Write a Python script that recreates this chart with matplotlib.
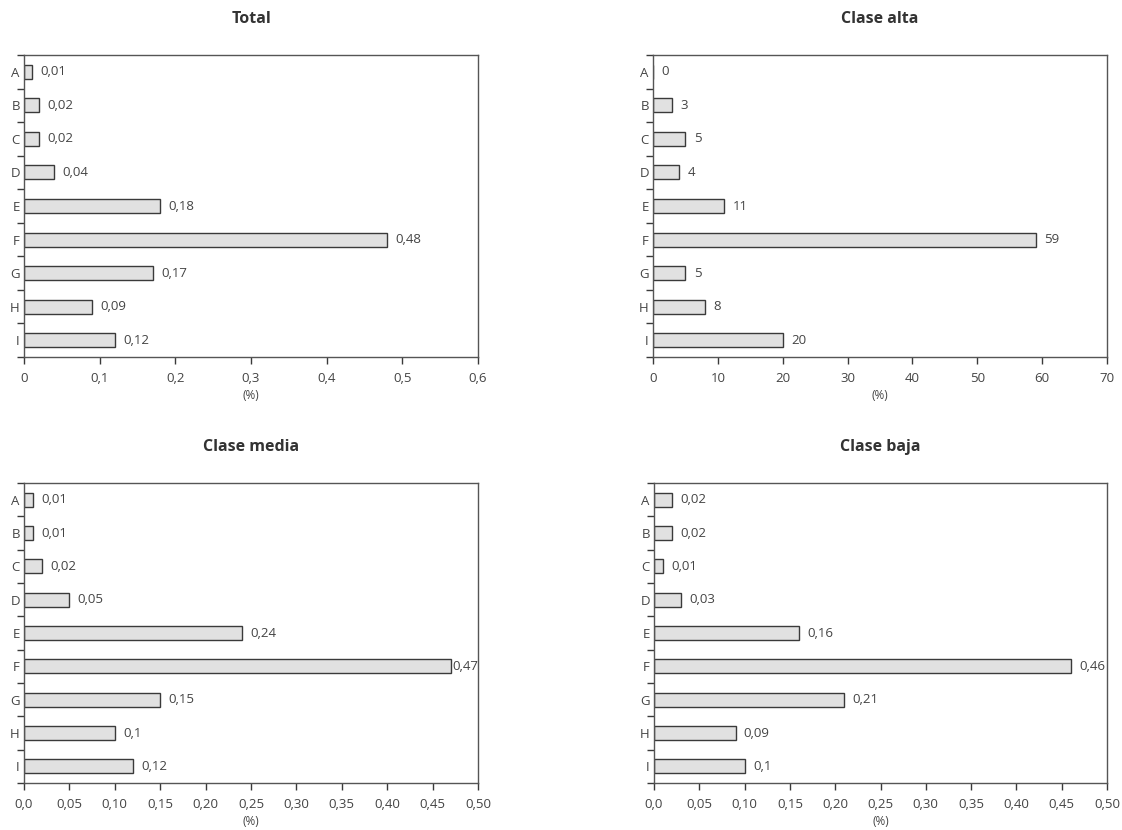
import numpy as np
import matplotlib
matplotlib.use("Agg")
import matplotlib.pyplot as plt

plt.rcParams["font.family"] = ["Open Sans", "DejaVu Sans"]

categories = ["A", "B", "C", "D", "E", "F", "G", "H", "I"]

total = [0.01, 0.02, 0.02, 0.04, 0.18, 0.48, 0.17, 0.09, 0.12]
clase_alta = [0, 3, 5, 4, 11, 59, 5, 8, 20]
clase_media = [0.01, 0.01, 0.02, 0.05, 0.24, 0.47, 0.15, 0.1, 0.12]
clase_baja = [0.02, 0.02, 0.01, 0.03, 0.16, 0.46, 0.21, 0.09, 0.1]

ticks_total = [0, 0.1, 0.2, 0.3, 0.4, 0.5, 0.6]
ticklabels_total = ["0", "0,1", "0,2", "0,3", "0,4", "0,5", "0,6"]
ticks_alta = [0, 10, 20, 30, 40, 50, 60, 70]
ticklabels_alta = ["0", "10", "20", "30", "40", "50", "60", "70"]
ticks_half = [0, 0.05, 0.10, 0.15, 0.20, 0.25, 0.30, 0.35, 0.40, 0.45, 0.50]
ticklabels_half = ["0,0", "0,05", "0,10", "0,15", "0,20", "0,25",
                   "0,30", "0,35", "0,40", "0,45", "0,50"]

panels = [
    ("Total", total, ticks_total, ticklabels_total, [24, 55, 478, 357]),
    ("Clase alta", clase_alta, ticks_alta, ticklabels_alta, [653, 55, 1107, 357]),
    ("Clase media", clase_media, ticks_half, ticklabels_half, [24, 483, 478, 783]),
    ("Clase baja", clase_baja, ticks_half, ticklabels_half, [654, 483, 1107, 783]),
]

W, H = 1122, 830
fig = plt.figure(figsize=(W / 100, H / 100), dpi=100)

edge = "#3a3a3a"
txt = "#444444"

for title, vals, ticks, tlabels, (x0, y0, x1, y1) in panels:
    ax = fig.add_axes([x0 / W, 1 - y1 / H, (x1 - x0) / W, (y1 - y0) / H])
    n = len(categories)
    y = np.arange(n)
    ax.barh(y, vals, height=0.42, color="#e1e1e1", edgecolor=edge, linewidth=1.0)
    ax.set_ylim(n - 0.5, -0.5)
    ax.set_xlim(ticks[0], ticks[-1])

    # category labels at bar centres, tick marks at the boundaries
    ax.set_yticks(np.arange(-0.5, n, 1.0))
    ax.set_yticklabels([])
    ax.set_yticks(y, minor=True)
    ax.set_yticklabels(categories, minor=True)
    ax.tick_params(axis="y", which="major", direction="out", length=5,
                   width=1, color=edge)
    ax.tick_params(axis="y", which="minor", length=0, pad=3,
                   labelsize=9.5, labelcolor=txt)

    ax.set_xticks(ticks)
    ax.set_xticklabels(tlabels)
    ax.tick_params(axis="x", direction="out", length=5, width=1, color=edge,
                   labelsize=9.5, labelcolor=txt, pad=6)
    ax.set_xlabel("(%)", fontsize=8.5, color=txt, labelpad=3)

    for s in ax.spines.values():
        s.set_color("#555555")
        s.set_linewidth(1.0)

    span = ticks[-1] - ticks[0]
    for yi, v in zip(y, vals):
        label = str(v).replace(".", ",")
        # a label that would run past the frame hugs its bar instead
        gap = 6 if v + 0.065 * span < ticks[-1] else 1
        ax.annotate(label, (v, yi), xytext=(gap, 0), textcoords="offset points",
                    va="center", ha="left", fontsize=9.5, color=txt)

    ax.set_title(title, fontsize=11.5, fontweight="bold", color="#333333", pad=23)

fig.savefig("out.png", dpi=100)
